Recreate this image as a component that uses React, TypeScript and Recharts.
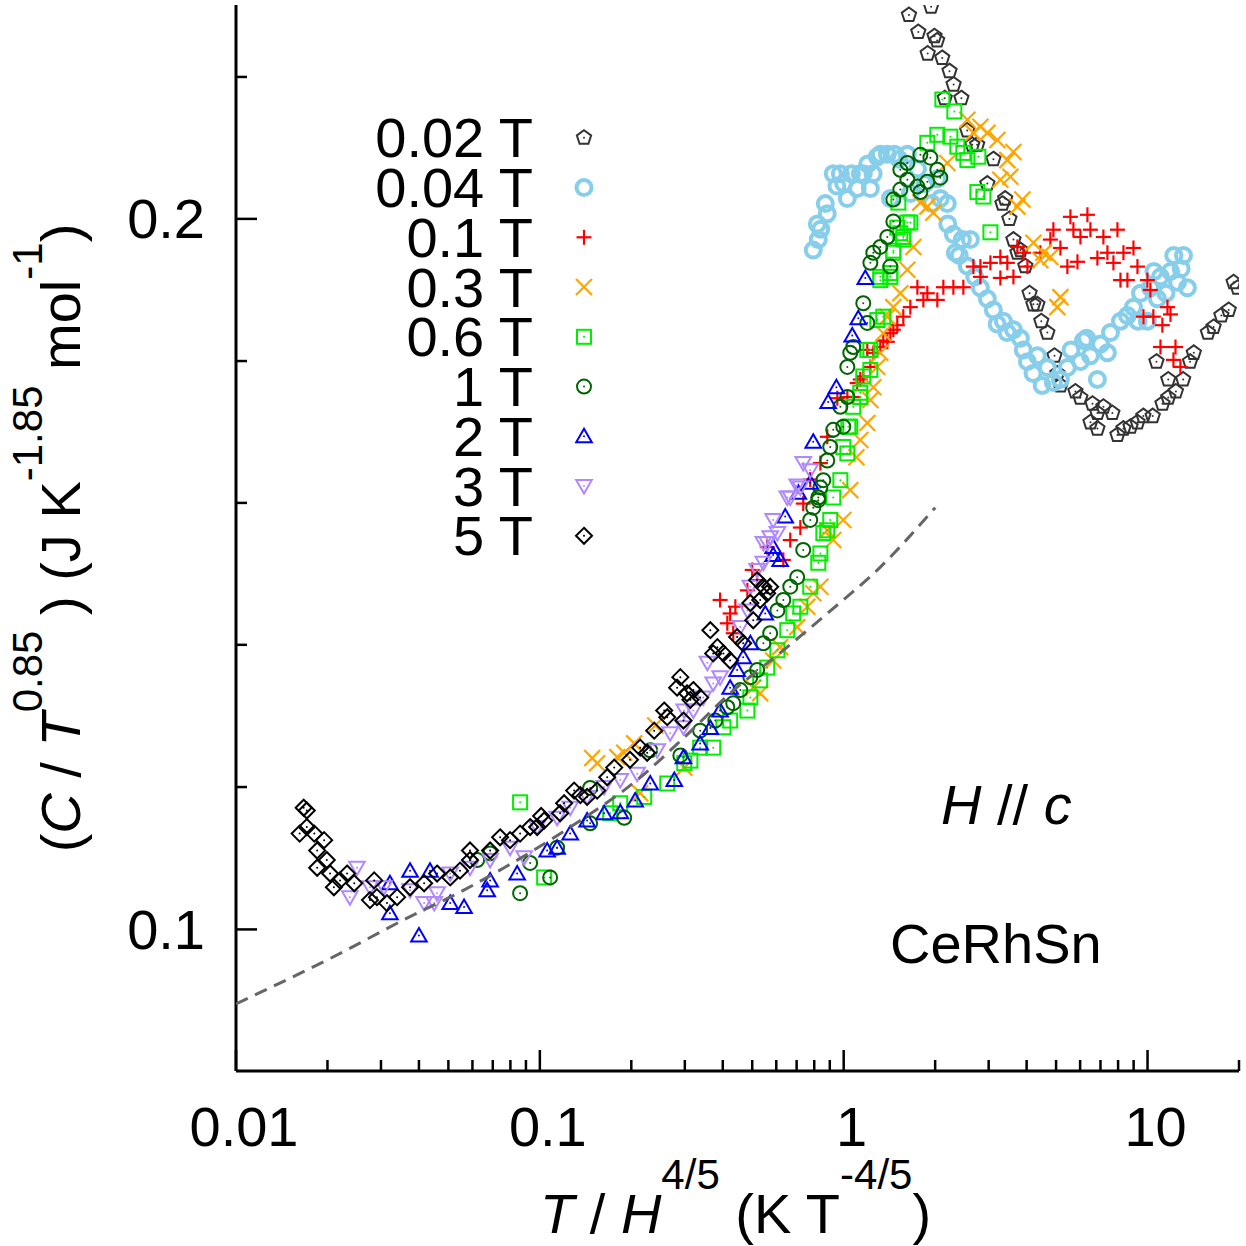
import React from 'react';
import { ScatterChart, Scatter, XAxis, YAxis, Legend } from 'recharts';

// axis ticks (log scales, gnuplot style: inward, mirrored)
const xTicks = [
  0.01, 0.02, 0.03, 0.04, 0.05, 0.06, 0.07, 0.08, 0.09,
  0.1, 0.2, 0.3, 0.4, 0.5, 0.6, 0.7, 0.8, 0.9,
  1, 2, 3, 4, 5, 6, 7, 8, 9, 10, 20,
];
const xMajor = [0.01, 0.1, 1, 10];
const yTicks = [0.1, 0.1149, 0.132, 0.1516, 0.1741, 0.2, 0.2297];
const yMajor = [0.1, 0.2];

// C/T^0.85 vs T/H^(4/5)
const field002: [number, number][] = [
  [1.64, 0.244], [1.94, 0.246], [1.76, 0.240], [1.99, 0.239], [2.03, 0.238], [1.89, 0.235],
  [2.11, 0.234], [2.23, 0.231], [2.30, 0.228], [2.44, 0.225], [2.15, 0.225], [2.55, 0.218],
  [2.65, 0.215], [2.75, 0.215], [3.11, 0.212], [2.97, 0.207], [3.40, 0.204], [3.33, 0.203],
  [3.51, 0.200], [3.62, 0.196], [3.82, 0.194], [3.73, 0.1935], [3.96, 0.191], [4.09, 0.186],
  [4.21, 0.184], [4.34, 0.184], [4.47, 0.181], [4.68, 0.179], [4.94, 0.175], [5.05, 0.172],
  [5.17, 0.170], [5.79, 0.169], [6.01, 0.168], [6.59, 0.167], [6.84, 0.1655], [7.16, 0.1665],
  [7.66, 0.1655], [6.49, 0.164], [6.84, 0.163], [7.96, 0.162], [8.33, 0.163], [8.79, 0.1633],
  [9.27, 0.164], [9.69, 0.165], [10.4, 0.165], [11.2, 0.167], [11.7, 0.168], [12.4, 0.169],
  [11.7, 0.171], [13.1, 0.171], [10.7, 0.174], [13.8, 0.174], [14.2, 0.1755], [15.8, 0.179],
  [16.5, 0.180], [17.5, 0.182], [18.5, 0.183], [19.2, 0.188], [19.8, 0.187],
];

const field004: [number, number][] = [
  [0.794, 0.194], [0.825, 0.196], [0.819, 0.199], [0.883, 0.201], [0.924, 0.209], [0.975, 0.209],
  [1.028, 0.204], [1.108, 0.206], [1.134, 0.209], [1.16, 0.209], [1.224, 0.206], [1.29, 0.2125],
  [1.32, 0.213], [1.392, 0.213], [1.424, 0.204], [1.62, 0.213], [1.657, 0.205], [2.033, 0.208],
  [2.08, 0.204], [2.193, 0.203], [2.296, 0.197], [2.458, 0.196], [2.612, 0.196], [2.331, 0.1935],
  [2.553, 0.191], [2.818, 0.187], [2.971, 0.185], [3.109, 0.183], [3.354, 0.181], [3.619, 0.1795],
  [3.815, 0.178], [4.024, 0.174], [4.34, 0.175], [4.681, 0.173], [5.167, 0.171], [5.447, 0.173],
  [6.014, 0.174], [6.152, 0.1776], [6.486, 0.175], [6.839, 0.171], [7.0, 0.177], [7.379, 0.1755],
  [7.551, 0.179], [8.145, 0.181], [8.587, 0.182], [8.988, 0.1835], [9.478, 0.186], [9.99, 0.181],
  [10.22, 0.187], [10.78, 0.185], [11.03, 0.189], [11.9, 0.190], [12.55, 0.188], [13.13, 0.193],
  [13.53, 0.187], [0.84, 0.198], [0.87, 0.203], [0.95, 0.2065], [1.0, 0.207], [1.06, 0.209],
  [1.2, 0.211], [1.25, 0.209], [1.47, 0.213], [1.52, 0.212], [1.75, 0.210], [1.85, 0.207],
  [1.95, 0.203], [2.2, 0.199], [2.4, 0.193], [2.7, 0.189], [3.2, 0.1805], [3.45, 0.179],
  [3.9, 0.176], [4.2, 0.172], [4.5, 0.170], [4.9, 0.1705], [5.6, 0.176], [6.3, 0.178],
  [9.3, 0.181], [10.5, 0.190], [12.2, 0.193], [12.9, 0.1905], [11.5, 0.186],
];

const field01: [number, number][] = [
  [5.574, 0.2004], [6.341, 0.2008], [5.702, 0.1979], [6.486, 0.1979], [7.96, 0.1979], [6.014, 0.1965],
  [7.157, 0.1965], [4.899, 0.1979], [4.789, 0.196], [5.167, 0.1944], [4.44, 0.1935], [3.729, 0.1946],
  [3.903, 0.1935], [3.278, 0.1927], [3.456, 0.1916], [3.04, 0.1916], [2.818, 0.1909], [2.672, 0.1909],
  [2.818, 0.189], [3.278, 0.1888], [3.619, 0.189], [4.024, 0.1909], [5.447, 0.1909], [5.88, 0.1918],
  [6.839, 0.1925], [7.379, 0.1935], [8.332, 0.1935], [8.988, 0.1944], [7.722, 0.1916], [9.265, 0.1909],
  [8.145, 0.1884], [8.587, 0.1884], [9.99, 0.1884], [10.22, 0.1866], [11.63, 0.1835], [11.9, 0.1822],
  [9.694, 0.1818], [10.45, 0.1818], [11.19, 0.1803], [11.03, 0.1765], [12.36, 0.1765], [12.17, 0.1743],
  [12.83, 0.1731],
  [1.748, 0.1871], [1.885, 0.186], [2.033, 0.1848], [1.829, 0.1848], [2.128, 0.1871], [2.296, 0.1871],
  [2.476, 0.1871], [1.657, 0.1835], [1.571, 0.1818], [1.501, 0.1803], [1.424, 0.1789], [1.35, 0.1776],
  [1.252, 0.1755], [1.224, 0.1731], [1.16, 0.1715], [1.108, 0.1704], [1.028, 0.1681], [1.32, 0.1765],
  [1.392, 0.1774], [1.457, 0.1795], [1.196, 0.176], [1.134, 0.171], [1.075, 0.1681], [0.953, 0.1679],
  [0.883, 0.1617], [0.838, 0.1576], [0.776, 0.1551], [0.736, 0.1515], [0.72, 0.148], [0.667, 0.1462],
  [0.56, 0.1452], [0.633, 0.1434], [0.5, 0.142], [0.519, 0.1406], [0.482, 0.1392], [0.392, 0.1379],
  [0.44, 0.137], [0.423, 0.1361], [0.414, 0.1348], [0.433, 0.1335],
];

const field03: [number, number][] = [
  [2.553, 0.2203], [2.818, 0.2188], [2.971, 0.2175], [3.204, 0.216], [2.672, 0.2175], [3.619, 0.2135],
  [3.456, 0.2118], [3.537, 0.2084], [3.278, 0.2078], [3.873, 0.2038], [3.729, 0.2024], [1.885, 0.2024],
  [1.972, 0.2012], [1.788, 0.2032], [2.193, 0.2112], [4.21, 0.1954], [4.543, 0.1935], [4.789, 0.1927],
  [4.44, 0.1921], [5.167, 0.1853], [5.049, 0.1835], [1.695, 0.1946], [1.62, 0.1903], [1.536, 0.186],
  [1.457, 0.1835], [1.392, 0.1818], [1.35, 0.1789], [1.32, 0.1755], [1.29, 0.1731], [1.252, 0.1697],
  [1.224, 0.1676], [1.196, 0.1639], [1.134, 0.1612], [1.101, 0.1585], [1.051, 0.1535], [0.997, 0.1491],
  [0.924, 0.1462], [0.883, 0.1476], [0.838, 0.1397], [0.794, 0.1388], [0.759, 0.137], [0.703, 0.1343],
  [0.618, 0.1317], [0.586, 0.13], [0.531, 0.1259], [0.504, 0.1266], [0.1487, 0.1182], [0.1544, 0.1176],
  [0.1798, 0.1183], [0.1895, 0.1188], [0.2044, 0.1199], [0.2139, 0.1142], [0.2987, 0.1171], [0.2398, 0.122],
];

const field06: [number, number][] = [
  [2.112, 0.2247], [2.313, 0.2221], [2.033, 0.2171], [1.885, 0.2154], [2.244, 0.2167], [2.366, 0.2146],
  [2.476, 0.2133], [2.553, 0.2118], [2.775, 0.2125], [2.882, 0.2044], [2.754, 0.2053], [3.04, 0.1974],
  [1.62, 0.1993], [1.536, 0.1972], [1.571, 0.196], [1.457, 0.1935], [1.424, 0.1897], [1.32, 0.1884],
  [1.35, 0.1818], [1.29, 0.1812], [1.224, 0.176], [1.224, 0.1726], [1.16, 0.1715], [1.134, 0.1681],
  [1.075, 0.1665], [1.051, 0.1633], [0.997, 0.1601], [1.513, 0.2032], [1.501, 0.1983], [1.657, 0.1993],
  [1.571, 0.1965], [1.457, 0.1939], [1.32, 0.189], [1.424, 0.189], [1.196, 0.176], [1.134, 0.1688],
  [1.036, 0.1633], [1.028, 0.1591], [0.975, 0.155], [0.924, 0.1524], [0.903, 0.1491], [0.857, 0.1472],
  [0.883, 0.1476], [0.838, 0.1443], [0.825, 0.143], [0.776, 0.1397], [0.72, 0.137], [0.682, 0.1361],
  [0.652, 0.1339], [0.605, 0.1313], [0.56, 0.1291], [0.531, 0.1275], [0.493, 0.1254], [0.482, 0.1238],
  [0.423, 0.1226], [0.402, 0.1218], [0.372, 0.1194], [0.337, 0.1194], [0.313, 0.1179], [0.2987, 0.1176],
  [0.2626, 0.1153], [0.2205, 0.1138], [0.1839, 0.1131], [0.1704, 0.112], [0.0861, 0.1132], [0.1033, 0.1052],
];

const field1: [number, number][] = [
  [1.788, 0.2129], [1.929, 0.2123], [2.033, 0.2098], [1.62, 0.2112], [1.536, 0.2098], [1.62, 0.2078],
  [1.748, 0.2064], [1.885, 0.2074], [2.08, 0.2082], [1.536, 0.2058], [1.788, 0.2053], [1.457, 0.2038],
  [1.457, 0.1995], [1.392, 0.1965], [1.32, 0.1946], [1.252, 0.1935], [1.224, 0.1916], [1.424, 0.1909],
  [1.16, 0.1842], [1.196, 0.1807], [1.075, 0.1765], [1.051, 0.1755], [1.028, 0.1731], [1.028, 0.1681],
  [0.997, 0.1633], [0.975, 0.1665], [0.924, 0.1628], [0.903, 0.1601], [0.883, 0.158], [0.857, 0.155],
  [0.838, 0.1539], [0.825, 0.1524], [0.794, 0.1509], [0.776, 0.1491], [0.825, 0.152], [0.736, 0.1448],
  [0.703, 0.141], [0.667, 0.1397], [0.633, 0.1379], [0.605, 0.1365], [0.573, 0.1335], [0.544, 0.1322],
  [0.519, 0.1288], [0.493, 0.1279], [0.457, 0.1263], [0.433, 0.1247], [0.414, 0.1242], [0.378, 0.1226],
  [0.337, 0.1214], [0.29, 0.1185], [0.2308, 0.1191], [0.1895, 0.1115], [0.1464, 0.1148], [0.1464, 0.1109],
  [0.114, 0.1083], [0.0929, 0.1067], [0.0861, 0.1036], [0.1081, 0.1052], [0.0686, 0.1077], [0.0622, 0.107],
];

const field2: [number, number][] = [
  [1.178, 0.1888], [1.117, 0.1815], [1.067, 0.1785], [0.946, 0.1697], [0.889, 0.1673], [0.794, 0.1609],
  [0.776, 0.1546], [0.709, 0.1531], [0.642, 0.1496], [0.586, 0.1452], [0.586, 0.1441], [0.618, 0.1434],
  [0.552, 0.1361], [0.493, 0.1322], [0.467, 0.1304], [0.446, 0.1288], [0.423, 0.1266], [0.392, 0.1238],
  [0.364, 0.1217], [0.337, 0.1199], [0.297, 0.1183], [0.277, 0.1157], [0.2308, 0.1153], [0.206, 0.1134],
  [0.184, 0.1121], [0.1628, 0.112], [0.1431, 0.1112], [0.1259, 0.1098], [0.114, 0.1083], [0.1057, 0.108],
  [0.0842, 0.1056], [0.0686, 0.1049], [0.0671, 0.1039], [0.0563, 0.1022], [0.0507, 0.1026], [0.0435, 0.1059],
  [0.0374, 0.1059], [0.0321, 0.1046], [0.0321, 0.1016], [0.04, 0.0994],
];

const field3: [number, number][] = [
  [0.736, 0.1576], [0.776, 0.1565], [0.72, 0.1539], [0.667, 0.1524], [0.586, 0.1491], [0.573, 0.1466],
  [0.544, 0.1458], [0.703, 0.1542], [0.652, 0.1524], [0.605, 0.1472], [0.56, 0.1458], [0.544, 0.143],
  [0.519, 0.142], [0.493, 0.1397], [0.482, 0.1365], [0.457, 0.1343], [0.356, 0.1297], [0.392, 0.1279],
  [0.372, 0.1271], [0.345, 0.1254], [0.32, 0.1238], [0.297, 0.1218], [0.2987, 0.1238], [0.2685, 0.1211],
  [0.2434, 0.1191], [0.2091, 0.1164], [0.1839, 0.1157], [0.1628, 0.1149], [0.1431, 0.1138], [0.1259, 0.1126],
  [0.114, 0.1115], [0.098, 0.1105], [0.0888, 0.1073], [0.0798, 0.1083], [0.0686, 0.107], [0.0589, 0.1062],
  [0.0507, 0.1056], [0.0459, 0.1036], [0.0449, 0.1026], [0.0416, 0.1026], [0.0374, 0.1039], [0.0307, 0.1042],
  [0.0276, 0.1042], [0.025, 0.1062], [0.0237, 0.1032],
];

const field5: [number, number][] = [
  [0.519, 0.1406], [0.544, 0.1397], [0.573, 0.1397], [0.56, 0.1388], [0.493, 0.1375], [0.531, 0.1379],
  [0.504, 0.1352], [0.364, 0.1339], [0.446, 0.133], [0.467, 0.1322], [0.384, 0.1317], [0.372, 0.1309],
  [0.402, 0.1309], [0.423, 0.13], [0.29, 0.1279], [0.32, 0.1263], [0.305, 0.1259], [0.337, 0.1254],
  [0.313, 0.1251], [0.297, 0.1226], [0.283, 0.1266], [0.2566, 0.1238], [0.2626, 0.123], [0.2379, 0.1214],
  [0.2139, 0.1194], [0.2256, 0.1188], [0.198, 0.118], [0.1757, 0.1171], [0.1666, 0.116], [0.1544, 0.1145],
  [0.1431, 0.1138], [0.136, 0.114], [0.1297, 0.1145], [0.1202, 0.1131], [0.1166, 0.112], [0.101, 0.1117],
  [0.1033, 0.1112], [0.098, 0.1105], [0.0929, 0.1105], [0.0861, 0.1098], [0.0798, 0.1091], [0.074, 0.1094],
  [0.0686, 0.108], [0.0589, 0.108], [0.0589, 0.107], [0.0546, 0.1059], [0.0507, 0.1052], [0.0459, 0.1056],
  [0.0416, 0.1046], [0.0374, 0.1042], [0.0339, 0.1032], [0.0314, 0.1026], [0.0291, 0.1032], [0.0285, 0.1049],
  [0.0276, 0.1029], [0.0245, 0.1046], [0.0232, 0.1056], [0.022, 0.1049], [0.021, 0.1042], [0.0204, 0.1056],
  [0.0199, 0.107], [0.0185, 0.108], [0.0195, 0.1091], [0.0181, 0.1098], [0.0171, 0.1105], [0.0162, 0.1098],
  [0.0171, 0.1123], [0.0167, 0.1126], [0.0185, 0.1062],
];

// dashed guide curve
const fitCurve: [number, number][] = [
  [0.01, 0.093], [0.0204, 0.0972], [0.0394, 0.1016], [0.0507, 0.1032], [0.0763, 0.1062],
  [0.1259, 0.1105], [0.2091, 0.1157], [0.2987, 0.1206], [0.423, 0.1259], [0.633, 0.1313],
  [0.883, 0.1361], [1.32, 0.1424], [2.0, 0.1509],
];

const series = [
  { name: '0.02 T', rows: field002, color: '#333333', kind: 'pentagon' },
  { name: '0.04 T', rows: field004, color: '#87ceeb', kind: 'fatcircle' },
  { name: '0.1 T', rows: field01, color: '#ff0000', kind: 'plus' },
  { name: '0.3 T', rows: field03, color: '#ffa500', kind: 'cross' },
  { name: '0.6 T', rows: field06, color: '#00ee00', kind: 'square' },
  { name: '1 T', rows: field1, color: '#006400', kind: 'circle' },
  { name: '2 T', rows: field2, color: '#0000ff', kind: 'triangle' },
  { name: '3 T', rows: field3, color: '#b088ff', kind: 'triangleDown' },
  { name: '5 T', rows: field5, color: '#000000', kind: 'diamond' },
];

const toPoints = (rows: [number, number][]) => rows.map(([x, y]) => ({ x, y }));

const FONT = "'Liberation Sans', Arial, Helvetica, sans-serif";
const W = 1246;
const H = 1246;

const poly = (cx: number, cy: number, r: number, n: number, start: number) =>
  Array.from({ length: n }, (_, i) => {
    const a = ((start + (360 / n) * i) * Math.PI) / 180;
    return `${cx + r * Math.cos(a)},${cy + r * Math.sin(a)}`;
  }).join(' ');

const Marker = ({ kind, color, cx, cy }: any) => {
  if (cx == null || cy == null) return <g />;
  const dot = <circle cx={cx} cy={cy} r={1} fill={color} />;
  const sw = 2;
  switch (kind) {
    case 'pentagon':
      return (
        <g>
          <polygon points={poly(cx, cy, 7.5, 5, -90)} fill="none" stroke={color} strokeWidth={sw} />
          {dot}
        </g>
      );
    case 'fatcircle':
      return <circle cx={cx} cy={cy} r={7.5} fill="none" stroke={color} strokeWidth={4} />;
    case 'plus':
      return (
        <g stroke={color} strokeWidth={2.2}>
          <line x1={cx - 7.5} y1={cy} x2={cx + 7.5} y2={cy} />
          <line x1={cx} y1={cy - 7.5} x2={cx} y2={cy + 7.5} />
        </g>
      );
    case 'cross':
      return (
        <g stroke={color} strokeWidth={2.2}>
          <line x1={cx - 8} y1={cy - 8} x2={cx + 8} y2={cy + 8} />
          <line x1={cx - 8} y1={cy + 8} x2={cx + 8} y2={cy - 8} />
        </g>
      );
    case 'square':
      return (
        <g>
          <rect x={cx - 7} y={cy - 7} width={14} height={14} fill="none" stroke={color} strokeWidth={sw} />
          {dot}
        </g>
      );
    case 'circle':
      return (
        <g>
          <circle cx={cx} cy={cy} r={7} fill="none" stroke={color} strokeWidth={sw} />
          {dot}
        </g>
      );
    case 'triangle':
      return (
        <g>
          <polygon points={poly(cx, cy + 1.5, 9, 3, -90)} fill="none" stroke={color} strokeWidth={sw} />
          {dot}
        </g>
      );
    case 'triangleDown':
      return (
        <g>
          <polygon points={poly(cx, cy - 1.5, 9, 3, 90)} fill="none" stroke={color} strokeWidth={sw} />
          {dot}
        </g>
      );
    default:
      return (
        <g>
          <polygon points={poly(cx, cy, 8, 4, -90)} fill="none" stroke={color} strokeWidth={sw} />
          {dot}
        </g>
      );
  }
};

const MAJOR = 21;
const MINOR = 11;
const TICK_W = 2.5;

const BottomTick = (props: any) => {
  const { x, y, payload } = props;
  const major = xMajor.includes(payload.value);
  return (
    <g>
      <line x1={x} y1={y} x2={x} y2={y - (major ? MAJOR : MINOR)} stroke="#000" strokeWidth={TICK_W} />
      {major && (
        <text x={x + 8} y={y + 75} textAnchor="middle" fontSize={56} fontFamily={FONT} fill="#000">
          {String(payload.value)}
        </text>
      )}
    </g>
  );
};

const TopTick = (props: any) => {
  const { x, y, payload } = props;
  const major = xMajor.includes(payload.value);
  return <line x1={x} y1={y} x2={x} y2={y + (major ? MAJOR : MINOR)} stroke="#000" strokeWidth={TICK_W} />;
};

const LeftTick = (props: any) => {
  const { x, y, payload } = props;
  const major = yMajor.includes(payload.value);
  return (
    <g>
      <line x1={x} y1={y} x2={x + (major ? MAJOR : MINOR)} y2={y} stroke="#000" strokeWidth={TICK_W} />
      {major && (
        <text x={x - 31} y={y + 19.5} textAnchor="end" fontSize={56} fontFamily={FONT} fill="#000">
          {String(payload.value)}
        </text>
      )}
    </g>
  );
};

const RightTick = (props: any) => {
  const { x, y, payload } = props;
  const major = yMajor.includes(payload.value);
  return <line x1={x} y1={y} x2={x - (major ? MAJOR : MINOR)} y2={y} stroke="#000" strokeWidth={TICK_W} />;
};

const XTitle = () => (
  <text x={540} y={1233} fontSize={56} fontFamily={FONT} fill="#000">
    <tspan fontStyle="italic">T</tspan>
    <tspan> / </tspan>
    <tspan fontStyle="italic">H</tspan>
    <tspan fontSize={42} dy={-44}>4/5</tspan>
    <tspan dy={44}> (K T</tspan>
    <tspan fontSize={42} dy={-44}>-4/5</tspan>
    <tspan dy={44}>)</tspan>
  </text>
);

const YTitle = () => (
  <text transform="translate(80,538) rotate(-90)" textAnchor="middle" fontSize={56} fontFamily={FONT} fill="#000">
    <tspan>(</tspan>
    <tspan fontStyle="italic">C</tspan>
    <tspan> / </tspan>
    <tspan fontStyle="italic">T</tspan>
    <tspan fontSize={42} dy={-38}>0.85</tspan>
    <tspan dy={38}> ) (J K</tspan>
    <tspan fontSize={42} dy={-38}>-1.85</tspan>
    <tspan dy={38}> mol</tspan>
    <tspan fontSize={42} dy={-38}>-1</tspan>
    <tspan dy={38}>)</tspan>
  </text>
);

const LegendBox = () => (
  <svg width={W} height={H} style={{ position: 'absolute', left: 0, top: 0 }}>
    {series.map((s, i) => {
      const base = 157.3 + i * 49.75;
      return (
        <g key={s.name}>
          <text x={533} y={base} textAnchor="end" fontSize={56} fontFamily={FONT} fill="#000">
            {s.name}
          </text>
          <Marker kind={s.kind} color={s.color} cx={584} cy={base - 19.5} />
        </g>
      );
    })}
  </svg>
);

const axisLine = { stroke: '#000', strokeWidth: 3 };

export default function App() {
  return (
    <div style={{ position: 'absolute', left: 0, top: 0, width: W, height: H, background: '#fff' }}>
      <ScatterChart width={W} height={H} margin={{ top: 5, right: 7, bottom: 0, left: 0 }}>
        <XAxis
          type="number"
          dataKey="x"
          scale="log"
          domain={[0.01, 20]}
          allowDataOverflow
          ticks={xTicks}
          interval={0}
          tickSize={0}
          tickMargin={0}
          tickLine={false}
          tick={BottomTick}
          axisLine={axisLine}
          height={175}
          label={<XTitle />}
        />
        <XAxis
          xAxisId="top"
          orientation="top"
          type="number"
          dataKey="x"
          scale="log"
          domain={[0.01, 20]}
          allowDataOverflow
          ticks={xTicks}
          interval={0}
          tickSize={0}
          tickMargin={0}
          tickLine={false}
          tick={TopTick}
          axisLine={axisLine}
          height={0}
        />
        <YAxis
          type="number"
          dataKey="y"
          scale="log"
          domain={[0.0871, 0.2464]}
          allowDataOverflow
          ticks={yTicks}
          interval={0}
          tickSize={0}
          tickMargin={0}
          tickLine={false}
          tick={LeftTick}
          axisLine={axisLine}
          width={236}
          label={<YTitle />}
        />
        <YAxis
          yAxisId="right"
          orientation="right"
          type="number"
          dataKey="y"
          scale="log"
          domain={[0.0871, 0.2464]}
          allowDataOverflow
          ticks={yTicks}
          interval={0}
          tickSize={0}
          tickMargin={0}
          tickLine={false}
          tick={RightTick}
          axisLine={axisLine}
          width={0}
        />
        {series.map((s) => (
          <Scatter
            key={s.name}
            name={s.name}
            data={toPoints(s.rows)}
            isAnimationActive={false}
            shape={(p: any) => <Marker kind={s.kind} color={s.color} cx={p.cx} cy={p.cy} />}
          />
        ))}
        <Scatter
          name="fit"
          data={toPoints(fitCurve)}
          isAnimationActive={false}
          line={{ stroke: '#666666', strokeWidth: 3, strokeDasharray: '13 8' }}
          lineJointType="monotoneX"
          shape={() => <g />}
          legendType="none"
        />
        <Legend
          layout="vertical"
          align="center"
          verticalAlign="middle"
          wrapperStyle={{ position: 'absolute', left: 0, top: 0, width: W, height: H, pointerEvents: 'none' }}
          content={() => <LegendBox />}
        />
      </ScatterChart>
      <svg width={W} height={H} style={{ position: 'absolute', left: 0, top: 0, pointerEvents: 'none' }}>
        <text x={941} y={824} fontSize={56} fontFamily={FONT} fill="#000">
          <tspan fontStyle="italic">H</tspan>
          <tspan> // </tspan>
          <tspan fontStyle="italic">c</tspan>
        </text>
        <text x={890} y={963} fontSize={56} fontFamily={FONT} fill="#000">
          CeRhSn
        </text>
      </svg>
    </div>
  );
}
